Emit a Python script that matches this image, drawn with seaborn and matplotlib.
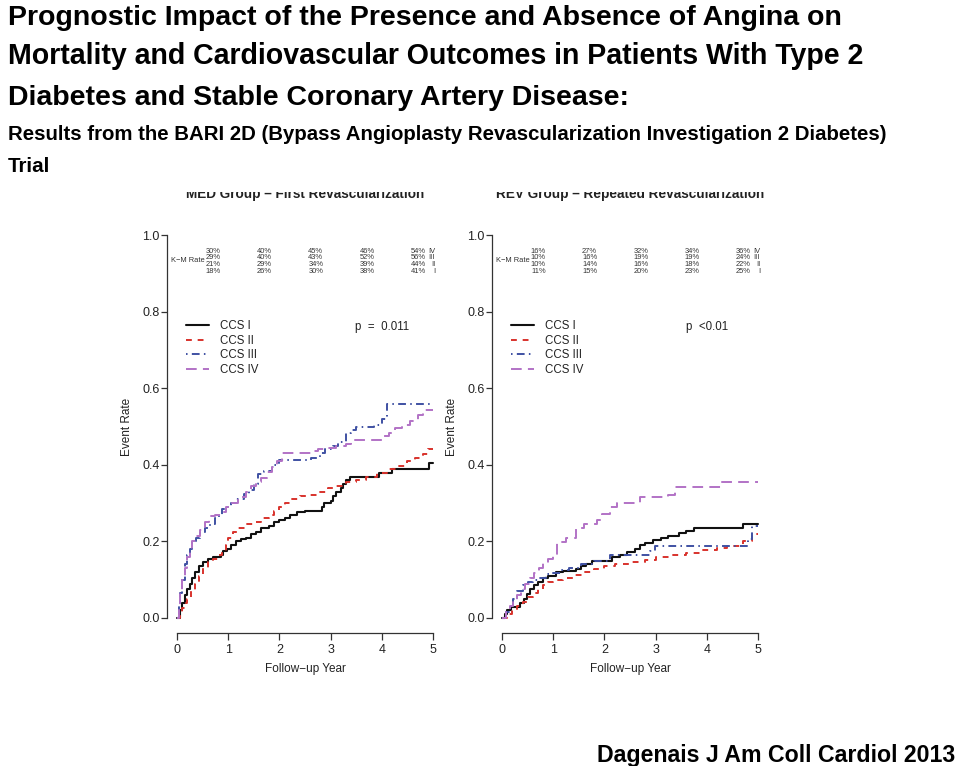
import matplotlib
matplotlib.use("Agg")
import matplotlib.pyplot as plt
import seaborn as sns
import pandas as pd
from matplotlib.patches import Rectangle

sns.set_theme(style="white")
plt.rcParams['font.family'] = ['Liberation Sans', 'DejaVu Sans']

# ---------------- data ----------------
series_names = ["CCS I", "CCS II", "CCS III", "CCS IV"]
numerals = ["IV", "III", "II", "I"]
km_years = [1, 2, 3, 4, 5]

# MED group (left panel)
med_t1 = [0, 0.05, 0.1, 0.15, 0.2, 0.25, 0.3, 0.35, 0.42, 0.5, 0.6, 0.7, 0.85, 0.9, 0.97, 1.05, 1.15, 1.25,
          1.35, 1.45, 1.55, 1.65, 1.8, 1.9, 2.0, 2.1, 2.2, 2.35, 2.5, 2.83, 2.87, 3.0, 3.05, 3.1, 3.2, 3.25,
          3.3, 3.38, 3.95, 4.2, 4.92, 5.0]
med_v1 = [0, 0.02, 0.04, 0.06, 0.075, 0.09, 0.105, 0.12, 0.135, 0.145, 0.155, 0.16, 0.165, 0.175, 0.18, 0.19,
          0.2, 0.205, 0.21, 0.22, 0.225, 0.235, 0.24, 0.25, 0.255, 0.262, 0.27, 0.277, 0.28, 0.29, 0.3, 0.305,
          0.318, 0.33, 0.34, 0.35, 0.36, 0.368, 0.378, 0.39, 0.405, 0.405]
med_t2 = [0, 0.05, 0.1, 0.15, 0.2, 0.28, 0.35, 0.42, 0.5, 0.6, 0.7, 0.8, 0.88, 0.95, 1.0, 1.1, 1.2, 1.35, 1.5,
          1.65, 1.8, 1.9, 2.0, 2.1, 2.2, 2.4, 2.6, 2.75, 2.95, 3.1, 3.3, 3.5, 3.7, 3.9, 4.1, 4.3, 4.5, 4.65,
          4.8, 4.9, 5.0]
med_v2 = [0, 0.01, 0.025, 0.04, 0.05, 0.07, 0.09, 0.11, 0.13, 0.145, 0.155, 0.165, 0.175, 0.19, 0.21, 0.225,
          0.235, 0.245, 0.25, 0.26, 0.27, 0.28, 0.29, 0.3, 0.31, 0.318, 0.322, 0.33, 0.34, 0.345, 0.355, 0.36,
          0.368, 0.378, 0.39, 0.398, 0.41, 0.418, 0.428, 0.44, 0.44]
med_t3 = [0, 0.03, 0.06, 0.1, 0.15, 0.2, 0.25, 0.3, 0.38, 0.45, 0.55, 0.65, 0.75, 0.82, 0.88, 0.95, 1.05, 1.15,
          1.3, 1.4, 1.5, 1.58, 1.7, 1.85, 2.0, 2.62, 2.8, 2.9, 3.05, 3.15, 3.3, 3.4, 3.5, 3.85, 4.0, 4.1, 5.0]
med_v3 = [0, 0.03, 0.065, 0.1, 0.14, 0.165, 0.18, 0.195, 0.21, 0.225, 0.235, 0.245, 0.26, 0.27, 0.285, 0.29,
          0.3, 0.31, 0.325, 0.335, 0.35, 0.375, 0.385, 0.4, 0.413, 0.418, 0.43, 0.44, 0.45, 0.46, 0.482, 0.49,
          0.5, 0.505, 0.52, 0.56, 0.56]
med_t4 = [0, 0.03, 0.06, 0.1, 0.15, 0.2, 0.25, 0.3, 0.38, 0.45, 0.55, 0.63, 0.75, 0.85, 0.95, 1.05, 1.2, 1.35,
          1.45, 1.55, 1.65, 1.75, 1.85, 1.95, 2.05, 2.65, 2.75, 2.9, 3.1, 3.3, 3.4, 4.05, 4.15, 4.25, 4.4, 4.55,
          4.7, 4.8, 5.0]
med_v4 = [0, 0.035, 0.07, 0.1, 0.13, 0.16, 0.18, 0.2, 0.215, 0.23, 0.25, 0.265, 0.27, 0.278, 0.29, 0.3, 0.315,
          0.33, 0.345, 0.355, 0.365, 0.38, 0.395, 0.41, 0.43, 0.435, 0.44, 0.445, 0.45, 0.455, 0.465, 0.475,
          0.483, 0.495, 0.505, 0.515, 0.53, 0.543, 0.543]

# REV group (right panel)
rev_t1 = [0, 0.05, 0.1, 0.18, 0.35, 0.42, 0.48, 0.55, 0.62, 0.7, 0.8, 0.9, 1.05, 1.2, 1.45, 1.55, 1.65, 1.75,
          2.15, 2.3, 2.45, 2.6, 2.7, 2.8, 2.95, 3.1, 3.25, 3.45, 3.6, 3.75, 4.7, 5.0]
rev_v1 = [0, 0.01, 0.02, 0.028, 0.04, 0.05, 0.062, 0.075, 0.085, 0.095, 0.105, 0.11, 0.12, 0.123, 0.128, 0.135,
          0.14, 0.148, 0.158, 0.165, 0.172, 0.18, 0.19, 0.197, 0.204, 0.21, 0.215, 0.222, 0.228, 0.235, 0.245,
          0.245]
rev_t2 = [0, 0.1, 0.2, 0.3, 0.4, 0.5, 0.6, 0.7, 0.8, 0.9, 1.0, 1.2, 1.4, 1.6, 1.8, 2.0, 2.2, 2.5, 2.8, 3.0, 3.3,
          3.6, 3.9, 4.2, 4.4, 4.7, 4.88, 5.0]
rev_v2 = [0, 0.01, 0.02, 0.03, 0.042, 0.055, 0.065, 0.075, 0.085, 0.095, 0.1, 0.105, 0.112, 0.12, 0.128, 0.135,
          0.142, 0.147, 0.152, 0.158, 0.165, 0.17, 0.178, 0.183, 0.187, 0.2, 0.22, 0.22]
rev_t3 = [0, 0.08, 0.15, 0.22, 0.3, 0.4, 0.5, 0.6, 0.7, 0.85, 1.0, 1.15, 1.3, 1.55, 1.8, 2.1, 2.9, 2.98, 4.8,
          4.88, 5.0]
rev_v3 = [0, 0.015, 0.03, 0.05, 0.07, 0.085, 0.095, 0.1, 0.105, 0.115, 0.118, 0.125, 0.13, 0.14, 0.15, 0.164,
          0.175, 0.187, 0.205, 0.24, 0.24]
rev_t4 = [0, 0.08, 0.15, 0.22, 0.3, 0.38, 0.45, 0.55, 0.62, 0.72, 0.8, 0.9, 1.0, 1.08, 1.25, 1.45, 1.6, 1.85,
          1.95, 2.1, 2.25, 2.7, 3.25, 3.38, 4.28, 5.0]
rev_v4 = [0, 0.015, 0.03, 0.045, 0.06, 0.075, 0.09, 0.105, 0.118, 0.13, 0.143, 0.155, 0.165, 0.198, 0.21,
          0.236, 0.245, 0.255, 0.272, 0.29, 0.3, 0.316, 0.322, 0.342, 0.355, 0.355]

# K-M rate tables (rows: IV, III, II, I ; columns: years 1..5)
med_km = [["30%", "40%", "45%", "46%", "54%"],
          ["29%", "40%", "43%", "52%", "56%"],
          ["21%", "29%", "34%", "39%", "44%"],
          ["18%", "26%", "30%", "38%", "41%"]]
rev_km = [["16%", "27%", "32%", "34%", "36%"],
          ["10%", "16%", "19%", "19%", "24%"],
          ["10%", "14%", "16%", "18%", "22%"],
          ["11%", "15%", "20%", "23%", "25%"]]

panel_titles = ["MED Group \u2013 First Revascularization", "REV Group \u2013 Repeated Revascularization"]
p_texts = ["p  =  0.011", "p  <0.01"]
y_ticks = [0.0, 0.2, 0.4, 0.6, 0.8, 1.0]
x_ticks = [0, 1, 2, 3, 4, 5]

# ---------------- styles ----------------
colors = ["#111111", "#d8322c", "#3f51a3", "#b272c6"]
dashes = [None, (3.0, 3.0), (0.8, 2.2, 4.0, 2.2), (5.5, 3.2)]

W, H = 960, 766
fig = plt.figure(figsize=(W / 100, H / 100), dpi=100)
fig.patch.set_facecolor("white")


def fig_rect(x0, y0, x1, y1):
    return [x0 / W, 1 - y1 / H, (x1 - x0) / W, (y1 - y0) / H]


# axes in pixel space: x-lim (-0.2, 5.2), y-lim (-0.04, 1.04)
ax_left = fig.add_axes(fig_rect(166.8, 219.7, 443.2, 633.3))
ax_right = fig.add_axes(fig_rect(491.8, 219.7, 768.2, 633.3))

panels = [
    (ax_left, [(med_t1, med_v1), (med_t2, med_v2), (med_t3, med_v3), (med_t4, med_v4)], med_km),
    (ax_right, [(rev_t1, rev_v1), (rev_t2, rev_v2), (rev_t3, rev_v3), (rev_t4, rev_v4)], rev_km),
]

title_cx = [305.5, 630.5]
p_x = [3.48, 3.6]

for i, (ax, curves, km) in enumerate(panels):
    ax.set_facecolor("white")
    for (t, v), name, c, d in zip(curves, series_names, colors, dashes):
        df = pd.DataFrame({"t": t, "v": v})
        sns.lineplot(data=df, x="t", y="v", ax=ax, estimator=None, sort=False,
                     color=c, lw=1.5, drawstyle="steps-post", label=name)
        line = ax.lines[-1]
        if d is not None:
            line.set_dashes(d)
            line.set_lw(1.4)
    ax.set_xlim(-0.2, 5.2)
    ax.set_ylim(-0.04, 1.04)
    ax.set_xticks(x_ticks)
    ax.set_yticks(y_ticks)
    ax.set_yticklabels([f"{y:.1f}" for y in y_ticks])
    for s in ["top", "right"]:
        ax.spines[s].set_visible(False)
    ax.spines["left"].set_bounds(0, 1)
    ax.spines["bottom"].set_bounds(0, 5)
    for s in ["left", "bottom"]:
        ax.spines[s].set_color("#333333")
        ax.spines[s].set_linewidth(0.9)
    ax.tick_params(axis="y", direction="out", length=4, width=0.9, color="#333333",
                   labelsize=9, labelcolor="#222222", pad=1, left=True)
    ax.tick_params(axis="x", direction="out", length=5, width=0.9, color="#333333",
                   labelsize=9, labelcolor="#222222", pad=3, bottom=True)
    ax.set_xlabel("Follow\u2212up Year", fontsize=8.5, color="#222222")
    ax.set_ylabel("Event Rate", fontsize=8.5, color="#222222")
    ax.xaxis.set_label_coords(0.5, -0.072)
    ax.yaxis.set_label_coords(-0.122, 0.5)
    ax.grid(False)

    leg = ax.legend(loc="upper left", bbox_to_anchor=(0.07, 0.758), frameon=False, fontsize=8.3,
                    handlelength=2.0, handletextpad=0.9, labelspacing=0.24, borderpad=0,
                    borderaxespad=0)
    for txt in leg.get_texts():
        txt.set_color("#222222")

    ax.text(p_x[i], 0.76, p_texts[i], fontsize=8.3, color="#222222", ha="left", va="center")

    # K-M table
    row_y = [0.958, 0.941, 0.924, 0.906]
    for r, (row, num) in enumerate(zip(km, numerals)):
        for k, val in enumerate(row):
            ax.text(km_years[k] - 0.29, row_y[r], val, fontsize=5.4, color="#333333",
                    ha="center", va="center")
        ax.text(5.04, row_y[r], num, fontsize=5.4, color="#333333", ha="right", va="center")
    ax.text(0.55, 0.933, "K\u2212M Rate", fontsize=5.4, color="#333333", ha="right", va="center")

    # panel title (its top is cut off in the reference)
    fig.text(title_cx[i] / W, 1 - 198 / H, panel_titles[i], fontsize=9.8, fontweight="bold",
             color="#222222", ha="center", va="baseline", zorder=3)

# white band hiding the top of the panel titles, as in the reference crop
fig.patches.append(Rectangle((100 / W, 1 - 192 / H), 720 / W, 16 / H, transform=fig.transFigure,
                             facecolor="white", edgecolor="none", zorder=5))

# ---------------- header texts ----------------
renderer = fig.canvas.get_renderer()


def fitted_text(x_px, base_px, x_right_px, s, start=20):
    t = fig.text(x_px / W, 1 - base_px / H, s, fontsize=start, fontweight="bold",
                 family="Liberation Sans", ha="left", va="baseline", color="black", zorder=6)
    w = t.get_window_extent(renderer=renderer).width
    t.set_fontsize(start * (x_right_px - x_px) / w)
    return t


fitted_text(8, 25, 842, "Prognostic Impact of the Presence and Absence of Angina on")
fitted_text(8, 64, 865, "Mortality and Cardiovascular Outcomes in Patients With Type 2")
fitted_text(8, 105, 628, "Diabetes and Stable Coronary Artery Disease:")
fitted_text(8, 140, 884, "Results from the BARI 2D (Bypass Angioplasty Revascularization Investigation 2 Diabetes)")
fitted_text(8, 172, 50, "Trial")
fitted_text(597, 762, 955, "Dagenais J Am Coll Cardiol 2013")

fig.savefig("out.png", dpi=100, facecolor="white")
